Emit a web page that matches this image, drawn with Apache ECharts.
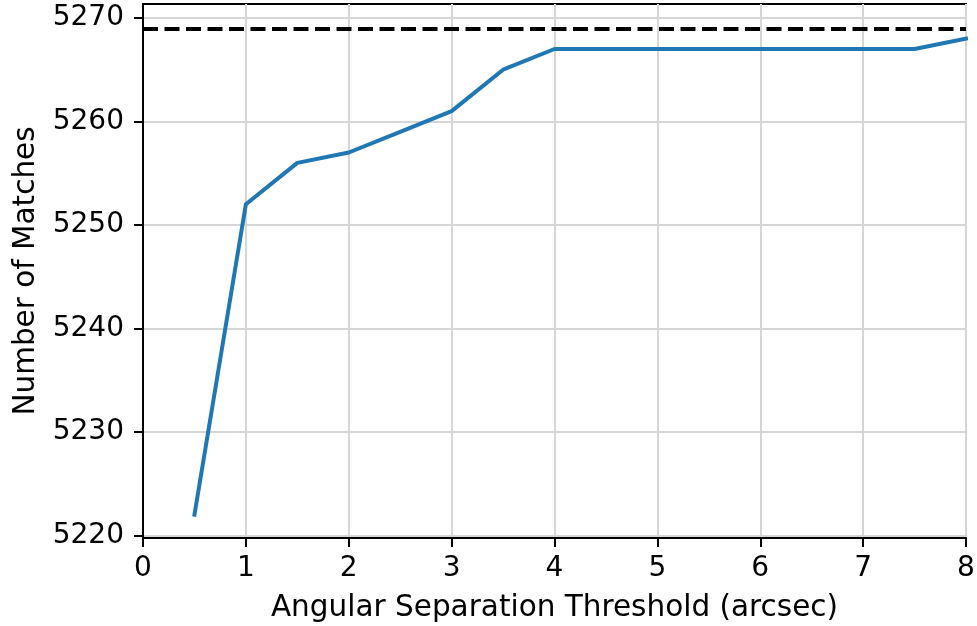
<!DOCTYPE html>
<html>
<head>
<meta charset="utf-8">
<script src="https://cdn.jsdelivr.net/npm/echarts@6/dist/echarts.min.js"></script>
<style>
  html, body { margin: 0; padding: 0; background: #fff; }
  #chart { width: 977px; height: 626px; }
</style>
</head>
<body>
<div id="chart"></div>
<script>
// Angular separation thresholds (arcsec) and the number of matched sources
const thresholds = [0.5, 1, 1.5, 2, 2.5, 3, 3.5, 4, 4.5, 5, 5.5, 6, 6.5, 7, 7.5, 8];
const matches = [5222, 5252, 5256, 5257, 5259, 5261, 5265, 5267, 5267, 5267, 5267, 5267, 5267, 5267, 5267, 5268];
// Total number of sources (upper reference line)
const totalSources = 5269;
// Tick values
const xTicks = [0, 1, 2, 3, 4, 5, 6, 7, 8];
const yTicks = [5220, 5230, 5240, 5250, 5260, 5270];

const FONT = 'DejaVu Sans';
const FS = 28;
const NAME_FS = 29.5;

const chart = echarts.init(document.getElementById('chart'), null, { renderer: 'canvas' });

chart.setOption({
  animation: false,
  backgroundColor: '#ffffff',
  grid: {
    left: 143, right: 11, top: 4, bottom: 88,
    containLabel: false,
    outerBoundsMode: 'none',
    show: true, borderColor: '#000', borderWidth: 2, backgroundColor: 'transparent'
  },
  xAxis: {
    type: 'value',
    min: xTicks[0], max: xTicks[xTicks.length - 1], interval: 1,
    name: 'Angular Separation Threshold (arcsec)',
    nameLocation: 'middle', nameGap: 55,
    nameTextStyle: { fontFamily: FONT, fontSize: NAME_FS, color: '#000' },
    axisLine: { show: true, onZero: false, lineStyle: { color: '#000', width: 2 } },
    axisTick: { show: true, inside: false, length: 9, lineStyle: { color: '#000', width: 2 } },
    axisLabel: {
      fontFamily: FONT, fontSize: FS, color: '#000', margin: 17,
      showMinLabel: true, showMaxLabel: true,
      formatter: v => String(v)
    },
    splitLine: { show: true, lineStyle: { color: '#d6d6d6', width: 2 } }
  },
  yAxis: {
    type: 'value',
    min: 5219.75, max: 5271.35,
    name: 'Number of Matches',
    nameLocation: 'middle', nameGap: 100,
    nameTextStyle: { fontFamily: FONT, fontSize: NAME_FS, color: '#000' },
    axisLine: { show: true, onZero: false, lineStyle: { color: '#000', width: 2 } },
    axisTick: { show: true, inside: false, length: 9, customValues: yTicks, lineStyle: { color: '#000', width: 2 } },
    axisLabel: {
      fontFamily: FONT, fontSize: FS, color: '#000', margin: 19,
      customValues: yTicks,
      formatter: v => String(v)
    },
    splitLine: { show: true, lineStyle: { color: '#d6d6d6', width: 2 } }
  },
  series: [
    {
      type: 'line',
      data: thresholds.map((t, i) => [t, matches[i]]),
      showSymbol: false,
      symbol: 'none',
      lineStyle: { color: '#1f77b4', width: 4, cap: 'square', join: 'round' },
      z: 3,
      markLine: {
        silent: true,
        symbol: ['none', 'none'],
        label: { show: false },
        lineStyle: { color: '#000', width: 4, type: [15, 6.5] },
        data: [{ yAxis: totalSources }]
      }
    }
  ]
});
</script>
</body>
</html>
